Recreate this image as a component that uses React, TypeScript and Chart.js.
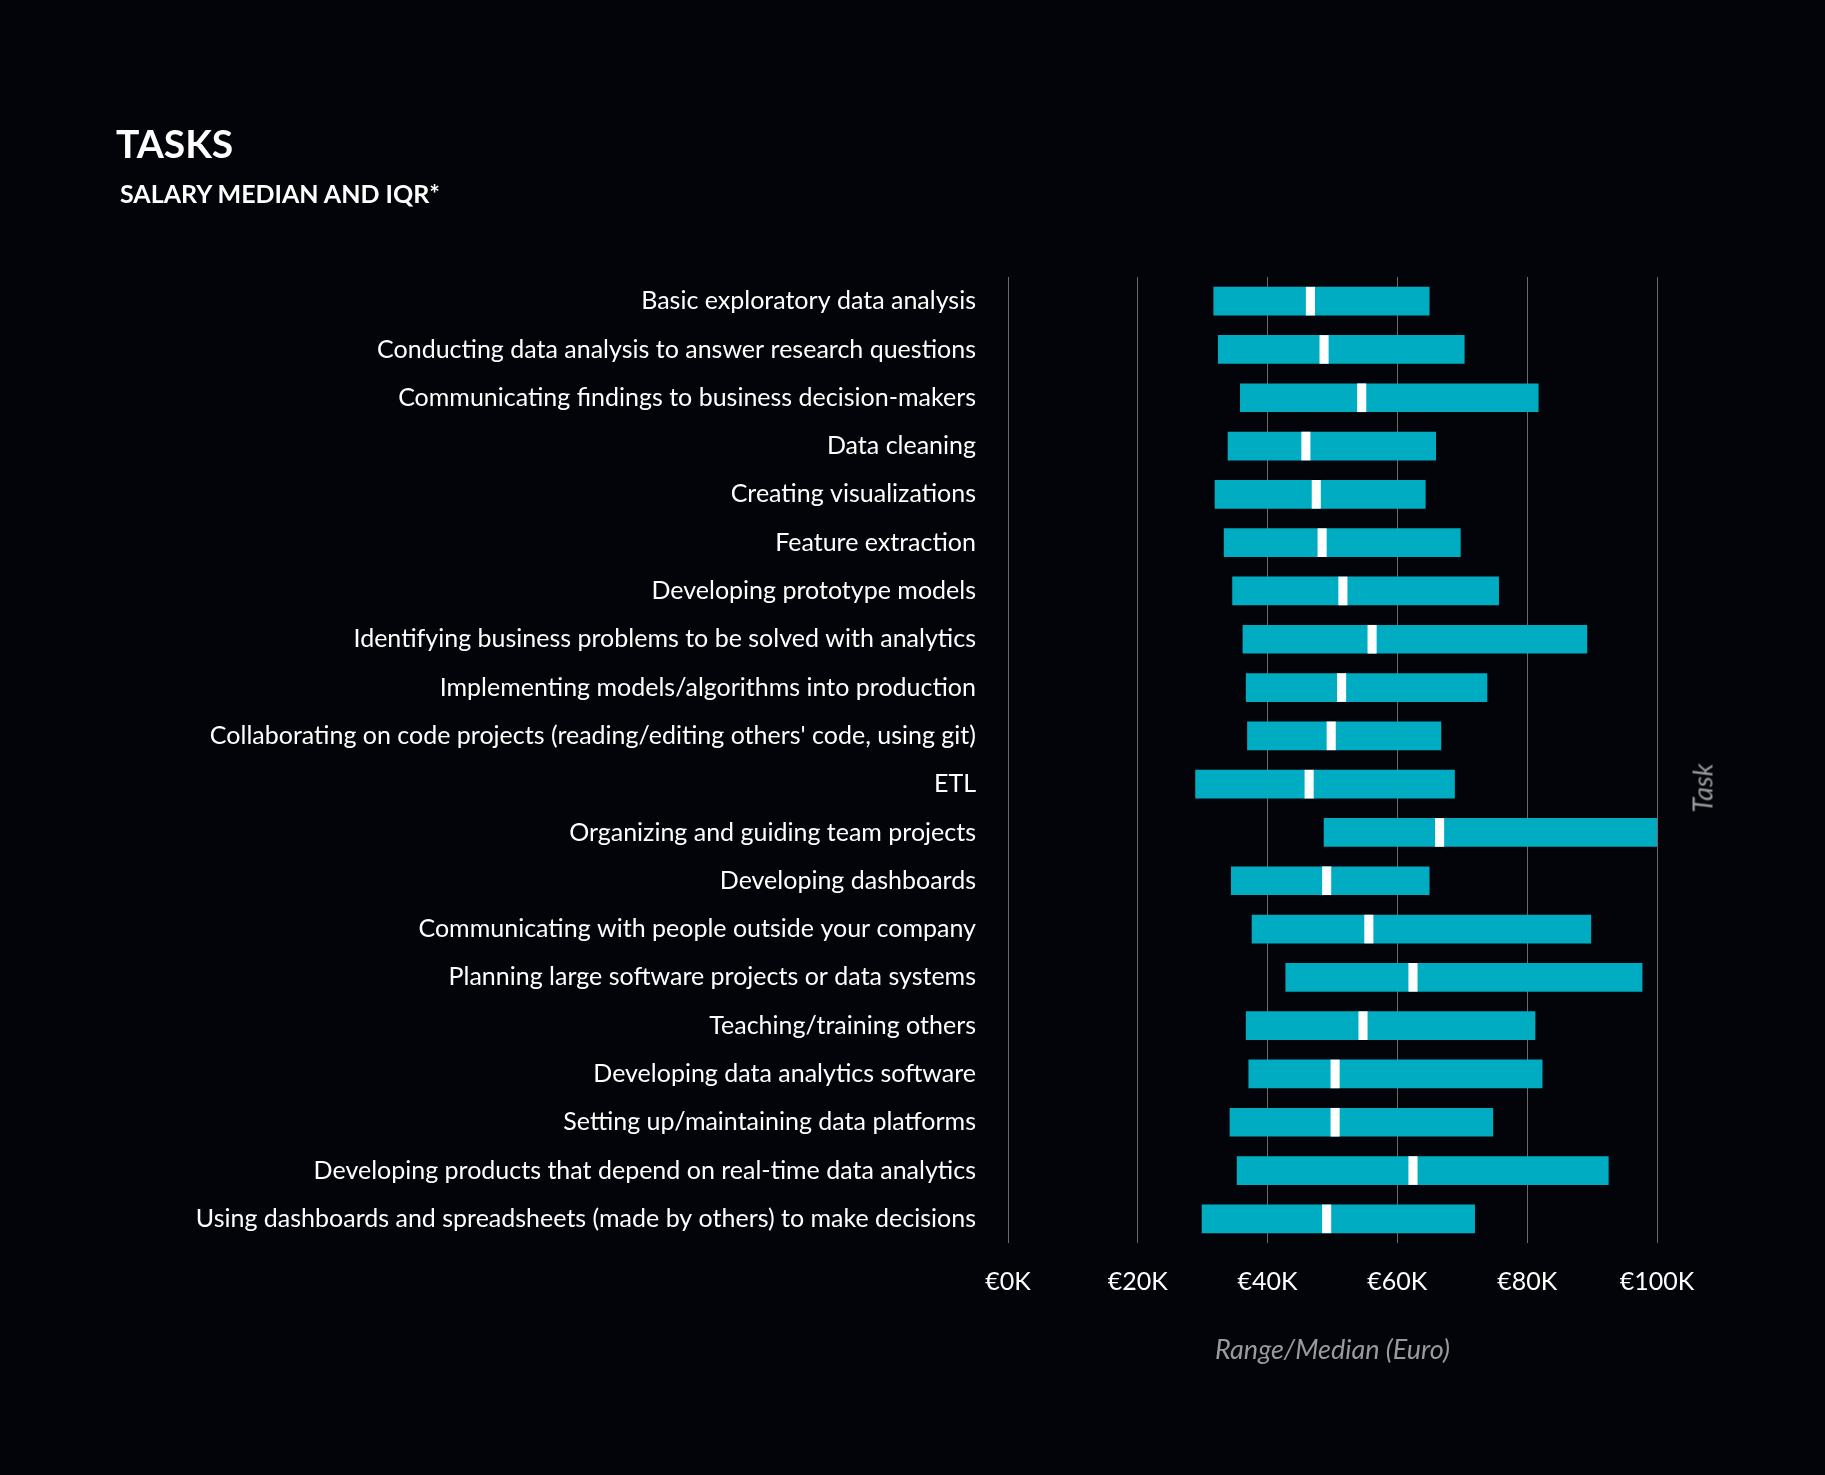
import { useEffect, useRef } from 'react';
import Chart from 'chart.js/auto';

const tasks = [
  'Basic exploratory data analysis',
  'Conducting data analysis to answer research questions',
  'Communicating findings to business decision-makers',
  'Data cleaning',
  'Creating visualizations',
  'Feature extraction',
  'Developing prototype models',
  'Identifying business problems to be solved with analytics',
  'Implementing models/algorithms into production',
  "Collaborating on code projects (reading/editing others' code, using git)",
  'ETL',
  'Organizing and guiding team projects',
  'Developing dashboards',
  'Communicating with people outside your company',
  'Planning large software projects or data systems',
  'Teaching/training others',
  'Developing data analytics software',
  'Setting up/maintaining data platforms',
  'Developing products that depend on real-time data analytics',
  'Using dashboards and spreadsheets (made by others) to make decisions',
];

// salaries in thousands of euros
const q1 = [31.7, 32.4, 35.8, 33.9, 31.9, 33.3, 34.6, 36.2, 36.7, 36.9, 28.9, 48.7, 34.4, 37.6, 42.8, 36.7, 37.1, 34.2, 35.3, 29.9];
const medians = [46.6, 48.7, 54.5, 45.9, 47.5, 48.4, 51.6, 56.1, 51.4, 49.8, 46.4, 66.5, 49.1, 55.6, 62.4, 54.7, 50.4, 50.4, 62.4, 49.1];
const q3 = [64.9, 70.3, 81.7, 65.9, 64.3, 69.7, 75.6, 89.2, 73.8, 66.7, 68.8, 100, 64.9, 89.8, 97.7, 81.2, 82.3, 74.7, 92.5, 71.9];

const FONT = 'Lato, "Open Sans", sans-serif';

export default function App() {
  const canvasRef = useRef<HTMLCanvasElement>(null);

  useEffect(() => {
    if (!canvasRef.current) return;
    const chart = new Chart(canvasRef.current, {
      type: 'bar',
      data: {
        labels: tasks,
        datasets: [
          {
            label: 'Median',
            data: medians.map((m) => [m - 0.65, m + 0.65]),
            backgroundColor: '#ffffff',
            barThickness: 28,
            grouped: false,
            order: 0,
          } as any,
          {
            label: 'IQR',
            data: q1.map((v, i) => [v, q3[i]]),
            backgroundColor: '#00acc1',
            barThickness: 28,
            grouped: false,
            order: 1,
          } as any,
        ],
      },
      options: {
        indexAxis: 'y',
        animation: false,
        responsive: false,
        layout: { padding: { left: 0, right: 168, top: 277, bottom: 0 } },
        plugins: { legend: { display: false }, tooltip: { enabled: false } },
        scales: {
          x: {
            min: 0,
            max: 100,
            ticks: {
              stepSize: 20,
              color: '#ffffff',
              padding: 24,
              font: { family: FONT, size: 25 },
              callback: (v) => '€' + v + 'K',
            },
            grid: { color: '#6a6a6a', lineWidth: 1, drawTicks: false },
            border: { display: false },
            afterFit: (axis: any) => {
              axis.height = 232;
            },
          },
          y: {
            ticks: {
              color: '#ffffff',
              padding: 24,
              font: { family: FONT, size: 25 },
            },
            grid: { display: false },
            border: { display: false },
            afterFit: (axis: any) => {
              axis.width = 1008;
            },
          },
        },
      },
    });
    return () => chart.destroy();
  }, []);

  return (
    <div style={{ position: 'fixed', inset: 0, background: '#030409', fontFamily: FONT }}>
      <canvas ref={canvasRef} width={1825} height={1475} style={{ position: 'absolute', left: 0, top: 0 }} />
      <div style={{ position: 'absolute', left: 116, top: 120, color: '#fff', fontSize: 39, fontWeight: 700 }}>TASKS</div>
      <div style={{ position: 'absolute', left: 120, top: 178, color: '#fff', fontSize: 25, fontWeight: 700 }}>
        SALARY MEDIAN AND IQR*
      </div>
      <div
        style={{
          position: 'absolute',
          left: 1000,
          width: 665,
          top: 1332,
          textAlign: 'center',
          color: '#9a9a9a',
          fontSize: 27,
          fontStyle: 'italic',
        }}
      >
        Range/Median (Euro)
      </div>
      <div
        style={{
          position: 'absolute',
          left: 1702,
          top: 788,
          transform: 'translate(-50%, -50%) rotate(-90deg)',
          color: '#9a9a9a',
          fontSize: 27,
          fontStyle: 'italic',
        }}
      >
        Task
      </div>
    </div>
  );
}
